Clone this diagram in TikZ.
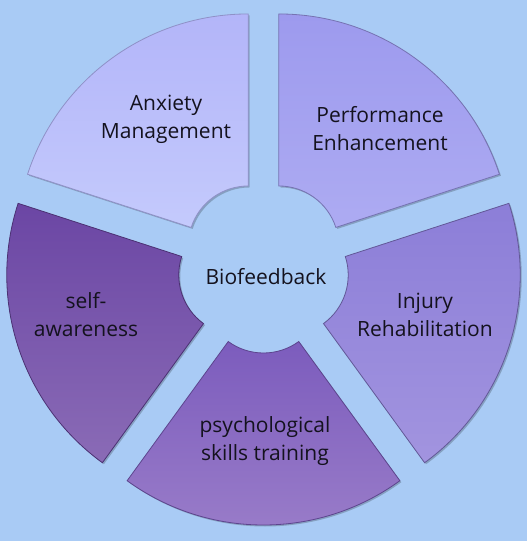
\documentclass[tikz,border=0pt]{standalone}
\usepackage{fontspec}
\setmainfont{Open Sans}
\usepackage{tikz}
\usetikzlibrary{positioning}

\definecolor{bgblue}{RGB}{169,203,245}
\definecolor{anxA}{RGB}{179,181,249}
\definecolor{anxB}{RGB}{196,202,252}
\definecolor{perfA}{RGB}{157,154,238}
\definecolor{perfB}{RGB}{173,171,242}
\definecolor{injA}{RGB}{140,126,216}
\definecolor{injB}{RGB}{162,148,223}
\definecolor{psyA}{RGB}{124,92,189}
\definecolor{psyB}{RGB}{154,125,201}
\definecolor{selfA}{RGB}{107,70,164}
\definecolor{selfB}{RGB}{138,107,182}
\definecolor{txt}{RGB}{20,18,30}

\begin{document}
\begin{tikzpicture}[x=1pt,y=1pt,
    sector/.style={line width=0.8pt, line join=miter, shading angle=45},
    secshadow/.style={fill=black!60!bgblue, opacity=0.35},
    label/.style={align=center, text=txt, font=\fontsize{21}{28}\selectfont}]
    % Background
    \fill[bgblue] (-263.5,-274) rectangle (263.5,267);
    \useasboundingbox (-263.5,-274) rectangle (263.5,267);

    % Shadows
    \begin{scope}[shift={(1.5,-1.5)}]
      \fill[secshadow, shift={(126:26)}] (162:232) arc[start angle=162, end angle=90, radius=232] -- (90:60) arc[start angle=90, end angle=162, radius=60] -- cycle;
      \fill[secshadow, shift={(54:26)}] (90:232) arc[start angle=90, end angle=18, radius=232] -- (18:60) arc[start angle=18, end angle=90, radius=60] -- cycle;
      \fill[secshadow, shift={(-18:26)}] (18:232) arc[start angle=18, end angle=-54, radius=232] -- (-54:60) arc[start angle=-54, end angle=18, radius=60] -- cycle;
      \fill[secshadow, shift={(-90:26)}] (-54:232) arc[start angle=-54, end angle=-126, radius=232] -- (-126:60) arc[start angle=-126, end angle=-54, radius=60] -- cycle;
      \fill[secshadow, shift={(198:26)}] (234:232) arc[start angle=234, end angle=162, radius=232] -- (162:60) arc[start angle=162, end angle=234, radius=60] -- cycle;
    \end{scope}

    % Anxiety Management
    \draw[sector, top color=anxA, bottom color=anxB, draw=anxA!80!black, shift={(126:26)}]
      (162:232) arc[start angle=162, end angle=90, radius=232] -- (90:60)
      arc[start angle=90, end angle=162, radius=60] -- cycle;
    % Performance Enhancement
    \draw[sector, top color=perfA, bottom color=perfB, draw=perfA!75!black, shift={(54:26)}]
      (90:232) arc[start angle=90, end angle=18, radius=232] -- (18:60)
      arc[start angle=18, end angle=90, radius=60] -- cycle;
    % Injury Rehabilitation
    \draw[sector, top color=injA, bottom color=injB, draw=injA!70!black, shift={(-18:26)}]
      (18:232) arc[start angle=18, end angle=-54, radius=232] -- (-54:60)
      arc[start angle=-54, end angle=18, radius=60] -- cycle;
    % psychological skills training
    \draw[sector, left color=psyA, right color=psyB, draw=psyA!75!black, shading angle=0, shift={(-90:26)}]
      (-54:232) arc[start angle=-54, end angle=-126, radius=232] -- (-126:60)
      arc[start angle=-126, end angle=-54, radius=60] -- cycle;
    % self-awareness
    \draw[sector, top color=selfA, bottom color=selfB, draw=selfA!70!black, shift={(198:26)}]
      (234:232) arc[start angle=234, end angle=162, radius=232] -- (162:60)
      arc[start angle=162, end angle=234, radius=60] -- cycle;

    % Labels
    \node[label] (bio) at (2.5,-10) {Biofeedback};
    \node[label] (anx) at (-97.5,148) {Anxiety\\Management};
    \node[label] (perf) at (116.5,138) {Performance\\Enhancement};
    \node[label] (inj) at (161.5,-48) {Injury\\Rehabilitation};
    \node[label] (psy) at (1.5,-174) {psychological\\skills training};
    \node[label] (self) at (-177.5,-48) {self-\\awareness};
\end{tikzpicture}
\end{document}
